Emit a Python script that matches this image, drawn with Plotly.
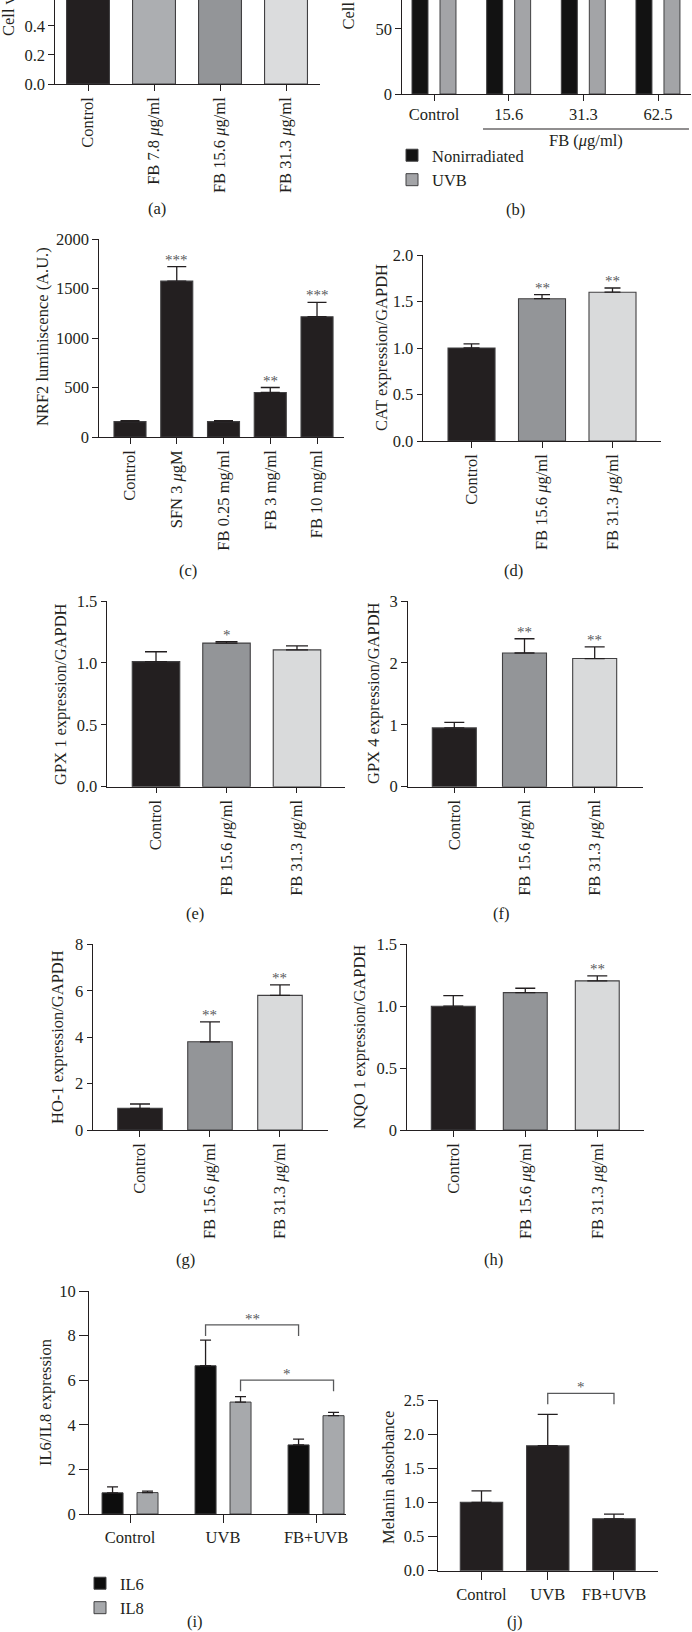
import plotly.graph_objects as go

W, H = 692, 1632
FONT = "Liberation Serif, Times New Roman, DejaVu Serif, serif"
DARK = "#231f20"
MID = "#939598"
LIGHT = "#d9dadb"
EDGE = "#414042"
AXC = "#231f20"
FS = 16.5

# ---------------- data ----------------
# (a) cell viability (bars run past the cropped top)
a_categories = ["Control", "FB 7.8 μg/ml", "FB 15.6 μg/ml", "FB 31.3 μg/ml"]
a_values = [1.00, 0.98, 0.97, 0.96]
a_colors = [DARK, "#acaeb1", MID, "#dbdcdd"]

# (b) cell viability under UVB (bars run past the cropped top)
b_categories = ["Control", "15.6", "31.3", "62.5"]
b_nonirradiated = [100, 98, 97, 96]
b_uvb = [86, 90, 92, 90]

# (c) NRF2 luminiscence
c_categories = ["Control", "SFN 3 μgM", "FB 0.25 mg/ml", "FB 3 mg/ml", "FB 10 mg/ml"]
c_values = [155, 1575, 155, 450, 1215]
c_err = [10, 145, 10, 50, 145]
c_sig = ["", "***", "", "**", "***"]

# (d) CAT
d_categories = ["Control", "FB 15.6 μg/ml", "FB 31.3 μg/ml"]
d_values = [1.00, 1.53, 1.60]
d_err = [0.045, 0.045, 0.045]
d_sig = ["", "**", "**"]

# (e) GPX 1
e_categories = ["Control", "FB 15.6 μg/ml", "FB 31.3 μg/ml"]
e_values = [1.01, 1.16, 1.105]
e_err = [0.08, 0.012, 0.032]
e_sig = ["", "*", ""]

# (f) GPX 4
f_categories = ["Control", "FB 15.6 μg/ml", "FB 31.3 μg/ml"]
f_values = [0.95, 2.16, 2.07]
f_err = [0.09, 0.23, 0.19]
f_sig = ["", "**", "**"]

# (g) HO-1
g_categories = ["Control", "FB 15.6 μg/ml", "FB 31.3 μg/ml"]
g_values = [0.93, 3.80, 5.80]
g_err = [0.19, 0.86, 0.45]
g_sig = ["", "**", "**"]

# (h) NQO 1
h_categories = ["Control", "FB 15.6 μg/ml", "FB 31.3 μg/ml"]
h_values = [1.00, 1.11, 1.205]
h_err = [0.085, 0.035, 0.04]
h_sig = ["", "", "**"]

# (i) IL6 / IL8
i_categories = ["Control", "UVB", "FB+UVB"]
i_il6 = [0.95, 6.65, 3.10]
i_il6_err = [0.27, 1.15, 0.26]
i_il8 = [0.96, 5.02, 4.41]
i_il8_err = [0.07, 0.24, 0.15]

# (j) Melanin
j_categories = ["Control", "UVB", "FB+UVB"]
j_values = [1.00, 1.83, 0.76]
j_err = [0.17, 0.46, 0.07]

three_colors = [DARK, MID, LIGHT]


def px_x(px):
    return px / W


def px_y(py):
    return 1 - py / H


def ital(s):
    return s.replace("μ", "<i>μ</i>")


fig = go.Figure()

# (axis index): left px, right px, top px, bottom px, x range, y range
geom = {
    1: (55, 320, 0, 84, [-0.5, 3.515], [0, 0.579]),
    2: (402, 691, 0, 94, [-0.429, 3.442], [0, 72.3]),
    3: (99, 344, 239, 437, [-0.663, 4.577], [0, 2000.01]),
    4: (423.3, 661, 255, 441, [-0.684, 2.688], [0, 2.0001]),
    5: (107.3, 345, 601, 786.7, [-0.691, 2.681], [0, 1.5001]),
    6: (407.7, 642.7, 601, 786.7, [-0.664, 2.684], [0, 3.0001]),
    7: (93.3, 328, 944.3, 1130, [-0.667, 2.686], [0, 8.0001]),
    8: (407, 644, 944.3, 1130, [-0.643, 2.649], [0, 1.5001]),
    9: (89.3, 346, 1291, 1514, [-0.438, 2.322], [0, 10.001]),
    10: (437.7, 657.7, 1400, 1570.7, [-0.661, 2.66], [0, 2.5001]),
}


def err(arr, cap):
    return dict(type="data", array=arr, arrayminus=[0] * len(arr), symmetric=False,
                color=AXC, thickness=1.3, width=cap)


def simple_bar(n, cats, vals, colors, width, errs=None, cap=9):
    kw = dict(
        x=cats, y=vals, width=width,
        marker=dict(color=colors, line=dict(color=EDGE, width=1.1)),
        xaxis="x" if n == 1 else f"x{n}", yaxis="y" if n == 1 else f"y{n}",
        showlegend=False, hoverinfo="skip",
    )
    if errs is not None:
        kw["error_y"] = err(errs, cap)
    fig.add_trace(go.Bar(**kw))


simple_bar(1, a_categories, a_values, a_colors, 0.65)
simple_bar(3, c_categories, c_values, DARK, 0.685, c_err, 9.5)
simple_bar(4, d_categories, d_values, three_colors, 0.667, d_err, 8)
simple_bar(5, e_categories, e_values, three_colors, 0.674, e_err, 11)
simple_bar(6, f_categories, f_values, three_colors, 0.627, f_err, 10)
simple_bar(7, g_categories, g_values, three_colors, 0.636, g_err, 10)
simple_bar(8, h_categories, h_values, three_colors, 0.61, h_err, 10)
simple_bar(10, j_categories, j_values, DARK, 0.64, j_err, 10)

# (b) grouped
fig.add_trace(go.Bar(x=b_categories, y=b_nonirradiated, name="Nonirradiated",
                     width=0.214, offset=-0.295,
                     marker=dict(color="#121212", line=dict(color=EDGE, width=1)),
                     xaxis="x2", yaxis="y2", legend="legend", hoverinfo="skip"))
fig.add_trace(go.Bar(x=b_categories, y=b_uvb, name="UVB",
                     width=0.214, offset=0.08,
                     marker=dict(color="#a3a4a7", line=dict(color=EDGE, width=1)),
                     xaxis="x2", yaxis="y2", legend="legend", hoverinfo="skip"))

# (i) grouped
fig.add_trace(go.Bar(x=i_categories, y=i_il6, name="IL6",
                     width=0.226, offset=-0.301, error_y=err(i_il6_err, 5.5),
                     marker=dict(color="#0d0d0d", line=dict(color=EDGE, width=1)),
                     xaxis="x9", yaxis="y9", legend="legend2", hoverinfo="skip"))
fig.add_trace(go.Bar(x=i_categories, y=i_il8, name="IL8",
                     width=0.226, offset=0.075, error_y=err(i_il8_err, 5.5),
                     marker=dict(color="#a7a9ac", line=dict(color=EDGE, width=1)),
                     xaxis="x9", yaxis="y9", legend="legend2", hoverinfo="skip"))

# ---------------- axes ----------------
tickfont = dict(family=FONT, size=FS, color="#231f20")
cats_for = {1: a_categories, 2: b_categories, 3: c_categories, 4: d_categories,
            5: e_categories, 6: f_categories, 7: g_categories, 8: h_categories,
            9: i_categories, 10: j_categories}
ydticks = {1: 0.2, 2: 50, 3: 500, 4: 0.5, 5: 0.5, 6: 1, 7: 2, 8: 0.5, 9: 2, 10: 0.5}
yfmt = {1: ".1f", 4: ".1f", 5: ".1f", 10: ".1f"}
rotated = {1, 3, 4, 5, 6, 7, 8}

layout = {}
for n, (x0, x1, yt, yb, xr, yr) in geom.items():
    xs = "xaxis" if n == 1 else f"xaxis{n}"
    ys = "yaxis" if n == 1 else f"yaxis{n}"
    big = n in (9, 10)
    cats = cats_for[n]
    layout[xs] = dict(
        domain=[px_x(x0), px_x(x1)], anchor="y" if n == 1 else f"y{n}",
        type="category", range=xr, showline=True, linecolor=AXC, linewidth=1.3,
        ticks="outside", ticklen=8 if big else 5.5, tickwidth=1.3, tickcolor=AXC,
        tickmode="array", tickvals=cats, ticktext=[ital(c) for c in cats],
        tickangle=-90 if n in rotated else 0, automargin=False,
        showgrid=False, zeroline=False, tickfont=tickfont, fixedrange=True,
    )
    yd = dict(
        domain=[px_y(yb), px_y(yt)], anchor="x" if n == 1 else f"x{n}",
        range=yr, showline=True, linecolor=AXC, linewidth=1.3,
        ticks="outside", ticklen=9 if big else 5.5, tickwidth=1.3, tickcolor=AXC,
        dtick=ydticks[n], tick0=0, showgrid=False, zeroline=False, automargin=False,
        tickfont=tickfont, fixedrange=True,
    )
    if n in yfmt:
        yd["tickformat"] = yfmt[n]
    if n == 8:
        yd.update(tickmode="array", tickvals=[0, 0.5, 1.0, 1.5],
                  ticktext=["0", "0.5", "1.0", "1.5"])
    layout[ys] = yd

annotations = []


def note(text, x, y, size=FS, angle=0, xanchor="center", yanchor="middle", **kw):
    d = dict(text=text, x=x, y=y, xref="paper", yref="paper", showarrow=False,
             font=dict(family=FONT, size=size, color="#231f20"), textangle=angle,
             xanchor=xanchor, yanchor=yanchor)
    d.update(kw)
    annotations.append(d)


# y-axis titles
note("Cell viability", px_x(8.5), px_y(38), angle=-90, yanchor="bottom")
note("Cell viability (%)", px_x(348), px_y(32), angle=-90, yanchor="bottom")
note("NRF2 luminiscence (A.U.)", px_x(42), px_y(337), angle=-90)
note("CAT expression/GAPDH", px_x(381), px_y(348), angle=-90)
note("GPX 1 expression/GAPDH", px_x(60), px_y(694), angle=-90)
note("GPX 4 expression/GAPDH", px_x(374), px_y(693), angle=-90)
note("HO-1 expression/GAPDH", px_x(57), px_y(1037), angle=-90)
note("NQO 1 expression/GAPDH", px_x(359), px_y(1037), angle=-90)
note("IL6/IL8 expression", px_x(45), px_y(1403), angle=-90)
note("Melanin absorbance", px_x(388), px_y(1478), angle=-90)

# panel letters
for lab, x, y in [("(a)", 157, 209), ("(b)", 515, 210), ("(c)", 188, 570), ("(d)", 513, 570),
                  ("(e)", 195, 913), ("(f)", 501, 913), ("(g)", 185, 1259), ("(h)", 494, 1259),
                  ("(i)", 195, 1621), ("(j)", 515, 1621)]:
    note(lab, px_x(x), px_y(y))

# significance stars above error bars
STAR = dict(family=FONT, size=15, color="#58595b")
for n, cats, vals, errs, sig in [(3, c_categories, c_values, c_err, c_sig),
                                 (4, d_categories, d_values, d_err, d_sig),
                                 (5, e_categories, e_values, e_err, e_sig),
                                 (6, f_categories, f_values, f_err, f_sig),
                                 (7, g_categories, g_values, g_err, g_sig),
                                 (8, h_categories, h_values, h_err, h_sig)]:
    for c, v, e, s in zip(cats, vals, errs, sig):
        if s:
            annotations.append(dict(text=s, x=c, y=v + e, xref=f"x{n}", yref=f"y{n}",
                                    showarrow=False, font=STAR, xanchor="center",
                                    yanchor="bottom", yshift=-3))

# (b) FB group label
shapes = [dict(type="line", xref="x2", yref="paper", x0=0.656, x1=3.415,
               y0=px_y(129), y1=px_y(129), line=dict(color=AXC, width=1.2))]
annotations.append(dict(text="FB (<i>μ</i>g/ml)", x=2.036, y=px_y(140), xref="x2", yref="paper",
                        showarrow=False, font=dict(family=FONT, size=FS, color="#231f20"),
                        xanchor="center", yanchor="middle"))

# (i) brackets
BR = dict(color="#58595b", width=1.3)
shapes.append(dict(type="path", xref="x9", yref="y9",
                   path="M 0.812,7.98 V 8.48 H 1.812 V 7.98", line=BR))
shapes.append(dict(type="path", xref="x9", yref="y9",
                   path="M 1.188,5.5 V 6.0 H 2.188 V 5.5", line=BR))
annotations.append(dict(text="**", x=1.312, y=8.48, xref="x9", yref="y9", showarrow=False,
                        font=STAR, xanchor="center", yanchor="bottom", yshift=-4))
annotations.append(dict(text="*", x=1.688, y=6.0, xref="x9", yref="y9", showarrow=False,
                        font=STAR, xanchor="center", yanchor="bottom", yshift=-4))
# (j) bracket (sits above the axis top)
shapes.append(dict(type="path", xref="x10", yref="y10 domain",
                   path="M 1,0.975 V 1.039 H 2 V 0.975", line=BR))
annotations.append(dict(text="*", x=1.5, y=1.039, xref="x10", yref="y10 domain", showarrow=False,
                        font=STAR, xanchor="center", yanchor="bottom", yshift=-4))

legend_common = dict(bgcolor="rgba(0,0,0,0)", borderwidth=0, xanchor="left", yanchor="top",
                     font=dict(family=FONT, size=FS, color="#231f20"),
                     itemclick=False, itemdoubleclick=False, tracegroupgap=0)

fig.update_layout(
    width=W, height=H, margin=dict(l=0, r=0, t=0, b=0, autoexpand=False),
    paper_bgcolor="white", plot_bgcolor="white",
    barmode="overlay", font=dict(family=FONT, size=FS, color="#231f20"),
    annotations=annotations, shapes=shapes,
    legend=dict(x=px_x(392), y=px_y(138), **legend_common),
    legend2=dict(x=px_x(80), y=px_y(1566), **legend_common),
    **layout,
)

fig.write_html("out.html", config={"responsive": False, "displayModeBar": False},
               post_script="document.body.style.margin='0';document.body.style.overflow='hidden';")
